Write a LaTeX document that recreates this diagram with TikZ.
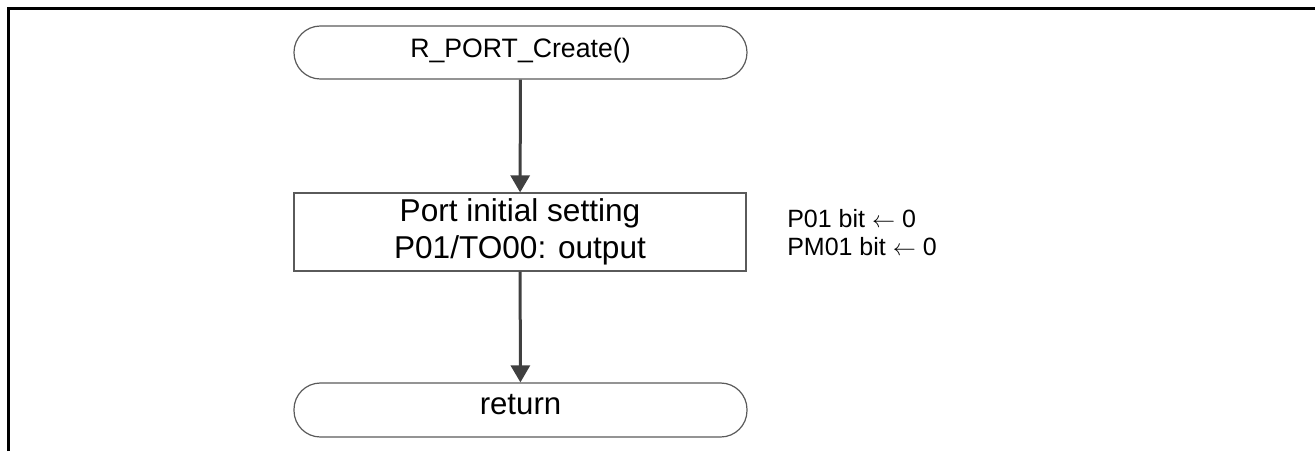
\documentclass[tikz,border=0pt]{standalone}
\usepackage{fontspec}
\setmainfont{Liberation Sans}
\usetikzlibrary{arrows.meta}
\definecolor{shapegray}{HTML}{5A5A5A}
\definecolor{arrowgray}{HTML}{404040}
\begin{document}
\begin{tikzpicture}[x=0.75pt,y=-0.75pt,
  term/.style={draw=shapegray, line width=0.9pt, rounded corners=19.8pt,
    minimum width=453*0.75pt, minimum height=53*0.75pt, inner sep=0pt,
    text height=0.72em, text depth=0pt},
  procbox/.style={draw=shapegray, line width=0.9pt, minimum width=452*0.75pt,
    minimum height=78*0.75pt, inner sep=0pt, align=center,
    font=\fontsize{23.7pt}{27.75pt}\selectfont},
  flow/.style={draw=arrowgray, line width=2.25pt,
    -{Triangle[width=19*0.75pt, length=17*0.75pt]}},
  note/.style={anchor=base west, inner sep=0pt, font=\fontsize{18.75pt}{21.75pt}\selectfont}]
  \useasboundingbox (0,0) rectangle (1315,451);
  \draw[line width=2.25pt] (8.5,451) -- (8.5,8.5) -- (1315,8.5);
  \node[term, font=\fontsize{20pt}{24pt}\selectfont] (start) at (520.5,52.5) {R\_PORT\_Create()};
  \node[procbox] (proc) at (520,232) {Port initial setting\\P01/TO00: output};
  \node[term, minimum height=54*0.75pt, font=\fontsize{23.4pt}{28pt}\selectfont] (ret) at (520.5,410) {return};
  \draw[flow] (start) -- (proc);
  \draw[flow] (proc) -- (ret);
  \node[note] (n1) at (787,227) {P01 bit $\leftarrow$ 0};
  \node[note] (n2) at (787,255.5) {PM01 bit $\leftarrow$ 0};
\end{tikzpicture}
\end{document}
